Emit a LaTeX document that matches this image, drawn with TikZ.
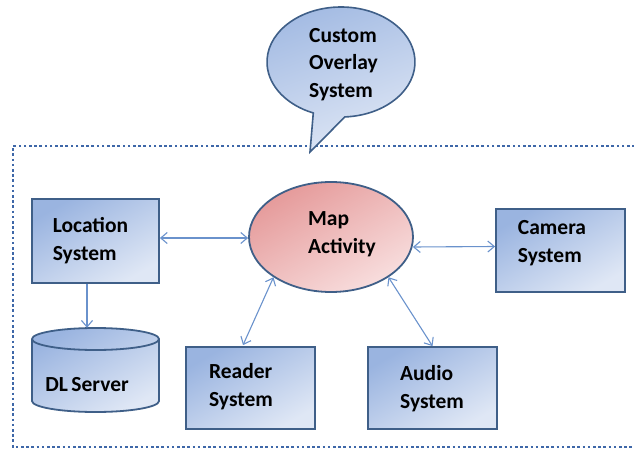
\documentclass[tikz,border=0pt]{standalone}
\usepackage{fontspec}
\setmainfont{Carlito}
\usetikzlibrary{shapes.geometric,arrows.meta,calc}
\definecolor{boxdark}{HTML}{9AB4E0}
\definecolor{boxlight}{HTML}{DFE7F5}
\definecolor{pinkdark}{HTML}{E59A9A}
\definecolor{pinklight}{HTML}{F8DEDE}
\definecolor{edge}{HTML}{3F5F88}
\definecolor{arrowc}{HTML}{6A92CC}
\definecolor{dotc}{HTML}{3E67A8}
\tikzset{
  sysbox/.style={rectangle, draw=edge, line width=1.8pt, inner sep=0pt,
    top color=boxdark, bottom color=boxlight, shading angle=30},
  lbl/.style={font=\bfseries\fontsize{21.5}{28}\selectfont, align=left, inner sep=0pt, text=black},
  arr/.style={draw=arrowc, line width=1.1pt, {Straight Barb[length=6.5pt,width=11pt]}-{Straight Barb[length=6.5pt,width=11pt]}},
  arrone/.style={draw=arrowc, line width=1.1pt, -{Straight Barb[length=6.5pt,width=11pt]}},
  mapell/.style={ellipse, draw=edge, line width=1.8pt, inner sep=0pt,
    top color=pinkdark, bottom color=pinklight, shading angle=30},
}
\begin{document}
\begin{tikzpicture}[x=1pt,y=-1pt]
\useasboundingbox (0,0) rectangle (634,449);
% dotted frame
\draw[dotc, line width=2.6pt, dash pattern=on 2.6pt off 2.6pt] (640,146) -- (13,146) -- (13,447) -- (640,447);
% speech bubble
\path[draw=edge, line width=1.6pt, top color=boxdark!90, bottom color=boxlight, shading angle=20]
  (310,152) -- ($(341,62)+(87:74 and 55)$) arc[start angle=87, end angle=-248, x radius=74, y radius=55] -- cycle;
\node[lbl] (cust) at (343.5,64.5) {Custom\\[-0.5pt]Overlay\\[-0.5pt]System};
% boxes
\node[sysbox, minimum width=127pt, minimum height=84pt] (loc) at (95.5,241) {};
\node[lbl] (locT) at (90.5,241) {Location\\System};
\node[sysbox, minimum width=129pt, minimum height=83pt] (cam) at (560.5,250.5) {};
\node[lbl] (camT) at (552,243) {Camera\\System};
\node[sysbox, minimum width=129pt, minimum height=82pt] (aud) at (432.5,388) {};
\node[lbl] (audT) at (432,388.5) {Audio\\System};
\node[sysbox, minimum width=129pt, minimum height=82pt] (rd) at (250.5,388) {};
\node[lbl] (rdT) at (241,386.5) {Reader\\System};
\node[mapell, minimum width=164pt, minimum height=110pt] (map) at (331,237) {};
\node[lbl] (mapT) at (342,234) {Map\\Activity};
% cylinder
\node[minimum width=127pt, minimum height=84pt, inner sep=0pt] (dl) at (95.5,370) {};
\path[draw=edge, line width=1.8pt, top color=boxdark, bottom color=boxlight, shading angle=30]
  (32,339) -- (32,401) arc[start angle=180, end angle=0, x radius=63.5, y radius=11]
  -- (159,339) arc[start angle=0, end angle=-180, x radius=63.5, y radius=11] -- cycle;
\draw[edge, line width=1.8pt] (32,339) arc[start angle=180, end angle=0, x radius=63.5, y radius=11];
\node[lbl] (dlT) at (87,385) {DL\,Server};
% connectors
\draw[arr] ([yshift=3pt]loc.east) -- ([yshift=-1pt]map.west);
\draw[arr] ([yshift=-10pt,xshift=-1pt]map.east) -- ([yshift=4pt]cam.west);
\draw[arr] (map.215) -- ([xshift=-7.5pt,yshift=1pt]rd.north);
\draw[arr] (map.325) -- (aud.north);
\draw[arrone] ([xshift=-8.5pt]loc.south) -- ([xshift=-8.5pt]dl.north);
\end{tikzpicture}
\end{document}
